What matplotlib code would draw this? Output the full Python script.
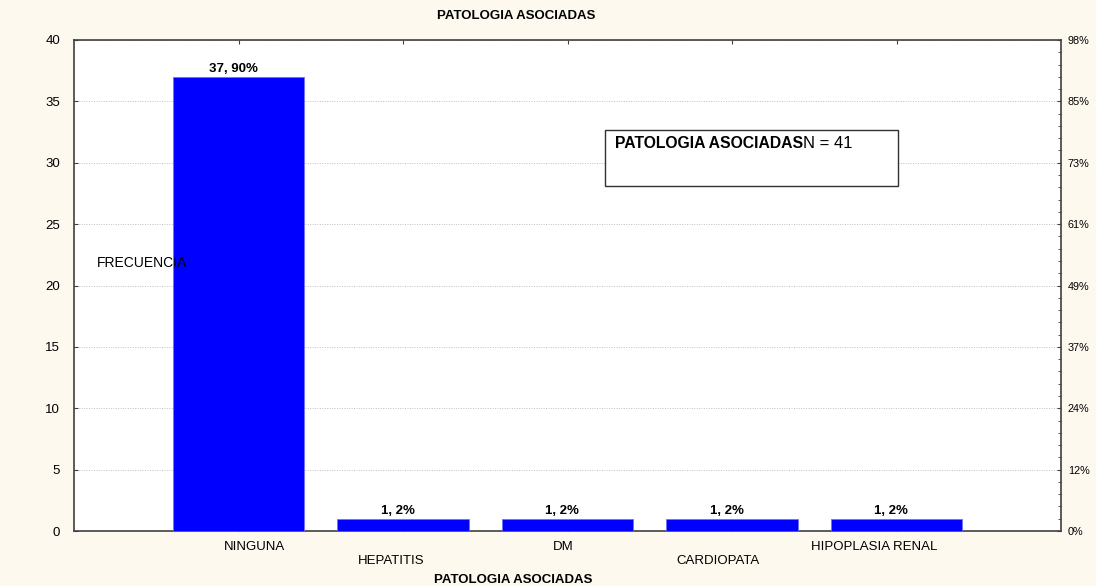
"""
Bar chart of associated pathologies (frequency and percent).
"""

import matplotlib
matplotlib.use('Agg')
import matplotlib.pyplot as plt
from matplotlib.patches import Rectangle
from matplotlib.ticker import MultipleLocator, FixedLocator

plt.rcParams['font.family'] = ['Liberation Sans', 'DejaVu Sans']

categories = ['NINGUNA', 'HEPATITIS', 'DM', 'CARDIOPATA', 'HIPOPLASIA RENAL']
counts = [37, 1, 1, 1, 1]
bar_labels = ['37, 90%', '1, 2%', '1, 2%', '1, 2%', '1, 2%']
total = 41
pct_ticks = [0, 5, 10, 15, 20, 25, 30, 35, 40]

# horizontal nudge (px) of each category label, the original is a bit ragged
label_shift = [16, -12, -4, -14, -22]


def main():
    fig = plt.figure(figsize=(10.96, 5.86), dpi=100, facecolor='#fdf9ef')
    ax = fig.add_axes([74 / 1096, 1 - 531 / 586, 987 / 1096, 491 / 586])
    ax.set_facecolor('white')

    x = list(range(len(categories)))
    ax.bar(x, counts, width=0.8, color='#0000ff', edgecolor='#7070ff',
           linewidth=0.6, zorder=3)

    # labels sit a little left of the bar centre, as in the original
    for xi, c, lab in zip(x, counts, bar_labels):
        ax.annotate(lab, (xi, c), xytext=(-4, 1.5), textcoords='offset points',
                    ha='center', va='bottom', fontsize=9.5,
                    fontweight='bold', zorder=4)

    ax.set_xlim(-1, 5)
    ax.set_ylim(0, 40)
    ax.yaxis.set_major_locator(MultipleLocator(5))
    ax.grid(axis='y', linestyle=(0, (1, 1.5)), color='#c0c0c0', linewidth=0.7,
            zorder=0)

    # category names in two staggered rows below the axis
    ax.set_xticks(x)
    ax.set_xticklabels([])
    for i, (xi, name) in enumerate(zip(x, categories)):
        dy = -16 if i % 2 == 0 else -30
        ax.annotate(name, (xi, 0), xycoords=('data', 'axes fraction'),
                    xytext=(label_shift[i] * 0.72, dy * 0.72),
                    textcoords='offset points', ha='center', va='center',
                    fontsize=9.5, annotation_clip=False)

    ax.tick_params(axis='x', direction='in', length=3, top=True,
                   color='#404040')
    ax.tick_params(axis='y', direction='in', length=3, labelsize=9.5, pad=10,
                   color='#404040')

    for s in ax.spines.values():
        s.set_color('#404040')
        s.set_linewidth(1.2)

    ax2 = ax.twinx()
    ax2.set_ylim(0, 40)
    ax2.yaxis.set_major_locator(FixedLocator(pct_ticks))
    ax2.set_yticklabels(['%d%%' % round(t / total * 100) for t in pct_ticks],
                        fontsize=7.8)
    ax2.yaxis.set_minor_locator(MultipleLocator(1))
    ax2.tick_params(axis='y', which='both', direction='in', length=3, pad=5,
                    color='#404040')
    ax2.tick_params(axis='y', which='minor', length=2)
    for s in ax2.spines.values():
        s.set_visible(False)

    fig.text(516 / 1096, 1 - 16 / 586, 'PATOLOGIA ASOCIADAS', fontsize=9.5,
             fontweight='bold', ha='center', va='center')
    fig.text(513 / 1096, 1 - 580 / 586, 'PATOLOGIA ASOCIADAS', fontsize=9.5,
             fontweight='bold', ha='center', va='center')

    fig.text(97 / 1096, 1 - 263 / 586, 'FRECUENCIA', fontsize=10,
             ha='left', va='center', zorder=10)

    box = Rectangle((605 / 1096, 1 - 186 / 586), 293 / 1096, 56 / 586,
                    transform=fig.transFigure, facecolor='white',
                    edgecolor='#303030', linewidth=1.0, zorder=10)
    fig.patches.append(box)
    t1 = fig.text(615 / 1096, 1 - 144 / 586, 'PATOLOGIA ASOCIADAS',
                  fontsize=11.3, fontweight='bold', ha='left', va='center',
                  zorder=11)
    fig.canvas.draw()
    bb = t1.get_window_extent()
    fig.text(bb.x1 / 1096, 1 - 144 / 586, 'N = 41', fontsize=12,
             ha='left', va='center', zorder=11)

    fig.savefig('out.png', dpi=100, facecolor=fig.get_facecolor())


if __name__ == '__main__':
    main()
